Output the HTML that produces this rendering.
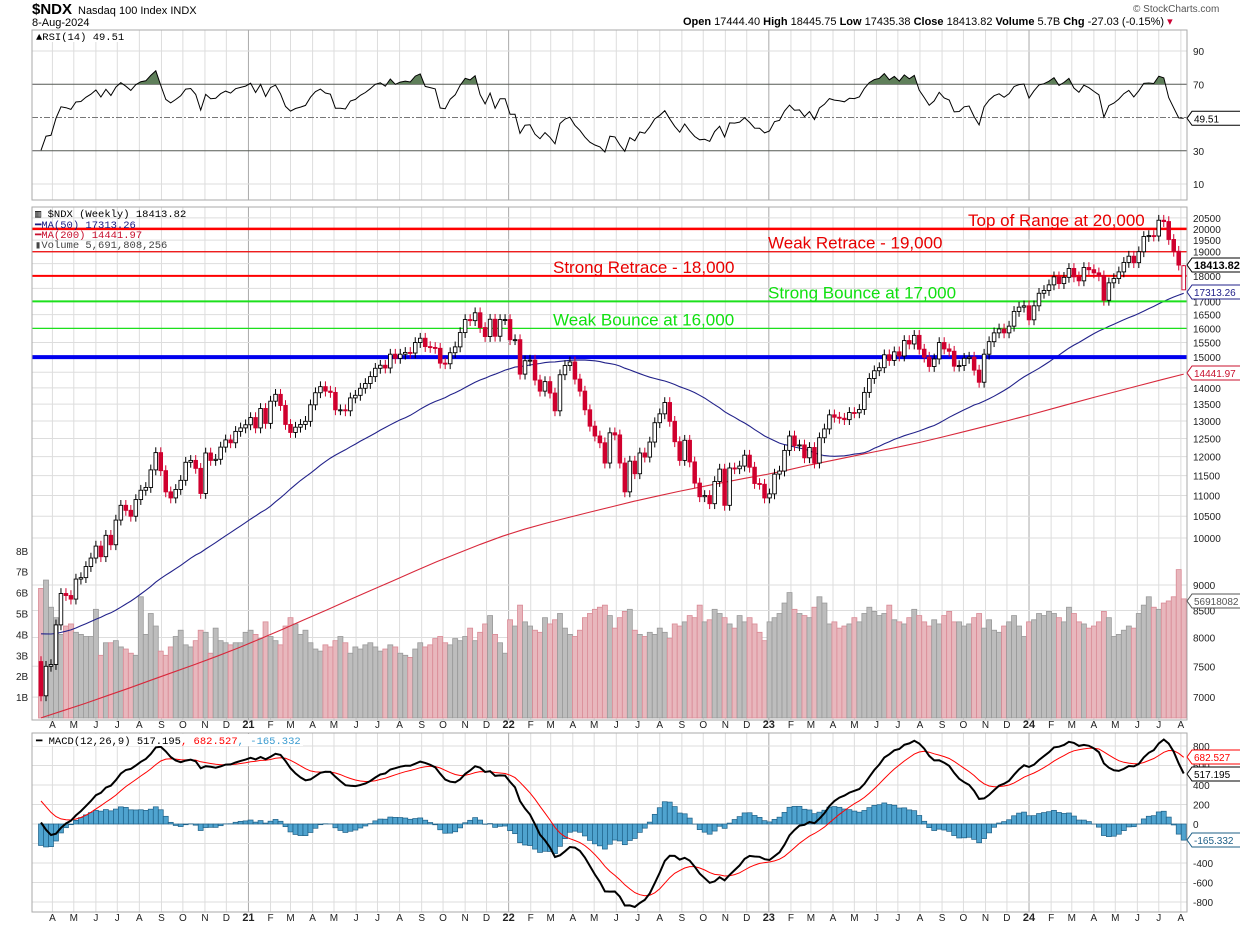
<!DOCTYPE html>
<html><head><meta charset="utf-8">
<style>
html,body{margin:0;padding:0;background:#fff;}
svg{display:block;font-family:"Liberation Sans",sans-serif;}
.mono{font-family:"Liberation Mono",monospace;}
</style></head>
<body>
<svg id="chart" width="1240" height="928" viewBox="0 0 1240 928" xmlns="http://www.w3.org/2000/svg">
<rect width="1240" height="928" fill="#fff"/>
<g id="grid"></g>
<g id="layers"></g>
<g>
<text x="32" y="14" font-size="15" font-weight="bold">$NDX</text>
<text x="78" y="14" font-size="11">Nasdaq 100 Index  INDX</text>
<text x="32" y="26" font-size="11">8-Aug-2024</text>
<text x="1133" y="12" font-size="10" fill="#555">© StockCharts.com</text>
<text x="683" y="25" font-size="11"><tspan font-weight="bold">Open</tspan> 17444.40  <tspan font-weight="bold">High</tspan> 18445.75  <tspan font-weight="bold">Low</tspan> 17435.38  <tspan font-weight="bold">Close</tspan> 18413.82  <tspan font-weight="bold">Volume</tspan> 5.7B  <tspan font-weight="bold">Chg</tspan> -27.03 (-0.15%) <tspan fill="#c03">▾</tspan></text>
</g>
</svg>
<script>
// ---------- DATA ----------
const priorCloses=[7550,7630,7820,7850,7640,7560,7390,7130,7420,7520,7720,7670,7820,7950,7840,7980,7680,7560,7600,7470,7530,7720,7830,7860,7690,7670,7780,7910,7990,8120,8180,8350,8300,8400,8380,8480,8650,8780,8850,8940,9110,9020,8990,9350,9620,9450,8460,8530,7580];
const closes2020=[7020,7500,7530,8230,8830,8790,8720,9120,9150,9380,9560,9820,9590,10060,9850,10410,10760,10640,10500,10900,11130,11200,11650,12110,11630,11090,10940,11150,11380,11850,11900,11690,11050,12100,11900,11930,12260,12460,12380,12700,12800,12890];
const closes2021=[13100,12800,13370,12930,13590,13800,13460,12900,12670,12820,12900,12990,13480,13850,14040,13900,13860,13330,13330,13300,13690,13770,13990,14140,14360,14630,14730,14640,15100,14960,15100,15160,15140,15500,15650,15360,15330,15300,14800,14780,15150,15350,15850,16320,16280,16570,16030,15710,16330,15720,16320,16320];
const closes2022=[15600,15600,14440,14880,14900,14250,13900,14200,13840,13300,14420,14720,14840,14280,13900,13330,12850,12570,12380,11830,12660,12600,11830,11090,11880,11550,12100,11990,12400,12950,13210,13550,12990,12410,11900,12450,11860,11310,10970,11000,10800,11350,11670,10760,11700,11680,11750,12040,11720,11300,11280,10940];
const closes2023=[11040,11540,11620,12170,12570,12300,12320,11970,12250,11830,12520,12770,13180,13110,13080,13040,13250,13240,13340,13860,14300,14550,14650,15080,14890,15180,15040,15570,15450,15750,15270,15000,14690,14940,15500,15280,15200,14700,14720,14960,15000,14570,14180,15100,15530,15840,15980,15840,16080,16620,16780,16830];
const closes2024=[16310,16830,17310,17420,17640,17960,17690,17940,18300,17960,17800,18340,18250,18120,18000,17040,17720,17890,18160,18550,18810,18540,19000,19660,19700,19680,20390,20330,19530,19020,18440,18414];
const lastWeekOHL=[17444.40,18445.75,17435.38];
const volume2020=[6.2,6.6,5.3,4.8,4.0,4.4,4.5,4.1,4.0,3.9,3.9,5.2,3.0,3.6,3.6,3.7,3.4,3.3,3.1,3.0,5.8,4.0,5.0,4.4,3.2,3.0,3.4,3.9,4.2,3.5,3.4,3.7,4.2,4.1,3.1,4.3,3.7,3.6,3.5,3.6,3.6,4.1];
const volume2021=[4.2,4.0,3.8,4.6,3.9,3.7,3.5,4.4,4.8,4.5,4.0,4.2,3.6,3.3,3.2,3.5,3.4,3.7,3.9,3.6,3.1,3.4,3.3,3.5,3.6,3.4,3.2,3.3,3.5,3.4,3.1,3.0,2.9,3.3,3.6,3.4,3.5,3.8,3.9,3.6,3.5,3.8,3.7,3.9,4.3,3.7,4.1,4.5,4.9,4.0,3.6,3.1];
const volume2022=[4.7,4.4,5.4,4.6,4.4,4.2,4.1,4.8,4.5,4.7,5.0,4.3,4.0,3.9,4.2,4.8,5.0,5.2,5.3,5.4,4.9,4.3,4.8,5.1,5.2,4.2,4.0,3.9,4.1,4.0,4.3,4.1,3.8,4.5,4.4,4.6,4.9,4.8,5.4,4.6,4.7,5.2,5.0,4.8,4.5,4.3,4.9,4.6,4.8,4.5,4.1,3.7];
const volume2023=[4.6,4.8,5.0,5.5,6.0,5.2,5.0,4.9,4.8,5.3,5.8,5.5,4.5,4.6,4.3,4.4,4.5,4.8,4.6,5.0,5.3,5.1,4.9,5.0,5.4,4.7,4.6,4.5,4.8,5.2,4.9,4.6,4.4,4.7,4.5,4.9,5.1,4.6,4.6,4.4,4.5,4.8,5.0,4.3,4.7,4.2,4.1,4.4,4.6,4.9,4.4,3.9];
const volume2024=[4.6,4.7,5.0,4.9,5.1,5.0,4.8,4.6,5.3,5.0,4.6,4.5,4.3,4.4,4.6,5.1,4.8,3.9,4.0,4.2,4.4,4.3,5.0,5.4,5.8,5.3,5.2,5.5,5.6,5.8,7.1,5.7];
const ma200Monthly=[6680,6790,6900,7020,7140,7270,7400,7530,7670,7820,7980,8150,8330,8510,8700,8890,9080,9280,9480,9670,9860,10040,10200,10340,10470,10600,10730,10860,10980,11100,11210,11320,11430,11530,11650,11780,11900,12020,12140,12260,12390,12540,12690,12850,13010,13180,13360,13540,13720,13900,14080,14260,14440];
const levelPrices=[20000,19000,18000,17000,16000,15000];
const levelLabels=["Top of Range at 20,000","Weak Retrace - 19,000","Strong Retrace - 18,000","Strong Bounce at 17,000","Weak Bounce at 16,000",""];
const priceTicks=[20500,20000,19500,19000,18500,18000,17500,17000,16500,16000,15500,15000,14500,14000,13500,13000,12500,12000,11500,11000,10500,10000,9000,8500,8000,7500,7000];
const volTicks=[1,2,3,4,5,6,7,8];
const rsiTicks=[90,70,50,30,10];
const macdTicks=[800,600,400,200,0,-200,-400,-600,-800];
const monthLetters=["J","F","M","A","M","J","J","A","S","O","N","D"];

// ---------- SCALES ----------
const closes=[].concat(closes2020,closes2021,closes2022,closes2023,closes2024);
const volumes=[].concat(volume2020,volume2021,volume2022,volume2023,volume2024);
const N=closes.length;
const X0=41,DX=4.99,L=32,R=1187;
const xw=i=>X0+i*DX;
const py=p=>538-446*Math.log(p/10000);
const vy=v=>718-v*20.9;
const ry=r=>184-(r-10)*1.6625;
const my=m=>824-m*0.0975;
const startDate=Date.UTC(2020,2,16);
const xd=d=>X0+(d-startDate)/86400000/7*DX;

const NS="http://www.w3.org/2000/svg";
const grid=document.getElementById('grid');
const layers=document.getElementById('layers');
function mk(tag,attrs,parent){const e=document.createElementNS(NS,tag);for(const k in attrs)e.setAttribute(k,attrs[k]);(parent||layers).appendChild(e);return e;}

// ---------- PANEL GRIDS ----------
const panels=[[30,200],[207,720],[733,912]];
for(let y=2020,m=3;y<2024||(y===2024&&m<=7);){
  const x=xd(Date.UTC(y,m,1));
  const yr=(m===0);
  panels.forEach(p=>{const ln=mk('line',{x1:x,x2:x,y1:p[0],y2:p[1],stroke:yr?'#aaa':'#ddd','stroke-width':1},grid);
    });
  [728,921].forEach(ty=>{const t=mk('text',{x:x,y:ty,'font-size':yr?11:10,'font-weight':yr?'bold':'normal','text-anchor':'middle',fill:'#222'},grid);
    
    t.textContent=yr?String(y-2000):monthLetters[m];});
  m++;if(m>11){m=0;y++;}
}
priceTicks.forEach(p=>{
  const g=mk('line',{x1:L,x2:R,y1:py(p),y2:py(p),stroke:'#ddd'},grid);
  
  const t=mk('text',{x:1193,y:py(p)+4,'font-size':10,fill:'#222'},grid);
  
  t.textContent=p;
});
volTicks.forEach(v=>{
  const t=mk('text',{x:16,y:vy(v)+4,'font-size':10,fill:'#222'},grid);
  
  t.textContent=v+'B';
});
rsiTicks.forEach(r=>{
  const strong=(r===70||r===30);
  const g=mk('line',{x1:L,x2:R,y1:ry(r),y2:ry(r),stroke:strong?'#555':(r===50?'#777':'#ddd'),'stroke-dasharray':r===50?'6,2,2,2':'none'},grid);
  
  if(r!==50){const t=mk('text',{x:1193,y:ry(r)+4,'font-size':10,fill:'#222'},grid);
  t.textContent=r;}
});
macdTicks.forEach(m=>{
  const g=mk('line',{x1:L,x2:R,y1:my(m),y2:my(m),stroke:'#ddd'},grid);
  
  const t=mk('text',{x:1193,y:my(m)+4,'font-size':10,fill:'#222'},grid);
  t.textContent=m;
});

// ---------- INDICATORS ----------
const all=priorCloses.concat(closes);const P=priorCloses.length;
const ma50=[];for(let i=0;i<N;i++){let s=0;for(let k=0;k<50;k++)s+=all[P+i-k];ma50.push(s/50);}
let ag=0,al=0;const rsiAll=[];
for(let j=1;j<all.length;j++){const d=all[j]-all[j-1];const g=Math.max(d,0),l=Math.max(-d,0);
  if(j<=14){ag+=g/14;al+=l/14;}else{ag=(ag*13+g)/14;al=(al*13+l)/14;}
  rsiAll[j]=al===0?100:100-100/(1+ag/al);}
const rsi=[];for(let i=0;i<N;i++)rsi.push(rsiAll[P+i]);
let e12=all[0],e26=all[0],sig=0;const macd=[],signal=[];
for(let j=0;j<all.length;j++){e12+= (all[j]-e12)*2/13;e26+=(all[j]-e26)*2/27;const m=e12-e26;sig+=(m-sig)*0.2;
  if(j>=P){macd.push(m);signal.push(sig);}}

// ---------- RSI PANEL ----------
const clip1=mk('clipPath',{id:'above70'});mk('rect',{x:L,y:30,width:R-L,height:ry(70)-30},clip1);
const clip2=mk('clipPath',{id:'below30'});mk('rect',{x:L,y:ry(30),width:R-L,height:200-ry(30)},clip2);
let rpts=rsi.map((r,i)=>xw(i).toFixed(1)+','+ry(r).toFixed(1)).join(' ');
const f1=mk('polygon',{points:xw(0)+','+ry(70)+' '+rpts+' '+xw(N-1)+','+ry(70),fill:'#5f7f5a','clip-path':'url(#above70)'});

const f2=mk('polygon',{points:xw(0)+','+ry(30)+' '+rpts+' '+xw(N-1)+','+ry(30),fill:'#5f7f5a','clip-path':'url(#below30)'});

const rl=mk('polyline',{points:rpts,fill:'none',stroke:'#000','stroke-width':1});


// ---------- VOLUME ----------
for(let i=0;i<N;i++){
  const up=closes[i]>=(i?closes[i-1]:all[P-1]);
  const b=mk('rect',{x:xw(i)-2.5,y:vy(volumes[i]),width:5,height:718-vy(volumes[i]),fill:up?'#bdbdbd':'#e8b7bd',stroke:up?'#999':'#d98a95','stroke-width':0.8});
  
}
// ---------- MAs ----------
const m50=mk('polyline',{points:ma50.map((v,i)=>xw(i).toFixed(1)+','+py(v).toFixed(1)).join(' '),fill:'none',stroke:'#22228a','stroke-width':1.1});

const m200=mk('polyline',{points:ma200Monthly.map((v,k)=>xw(k*(N-1)/(ma200Monthly.length-1)).toFixed(1)+','+py(v).toFixed(1)).join(' '),fill:'none',stroke:'#d8293c','stroke-width':1.1});


// ---------- LEVELS ----------
const lvColors=['#f00','#e00','#f00','#1ce01c','#1ce01c','#0000ee'];
const lvWidth=[2.5,1.2,2,2,1.2,4];
const lvTextX=[968,768,553,768,553,0];
levelPrices.forEach((p,k)=>{
  const ln=mk('line',{x1:L,x2:R,y1:py(p),y2:py(p),stroke:lvColors[k],'stroke-width':lvWidth[k]});
  
  if(levelLabels[k]){const t=mk('text',{x:lvTextX[k],y:py(p)-3,'font-size':17,fill:k<3?'#e80000':'#10e010'});
    t.textContent=levelLabels[k];}
});

// ---------- CANDLES ----------
for(let i=0;i<N;i++){
  const last=(i===N-1);
  const o=last?lastWeekOHL[0]:(i?closes[i-1]:all[P-1]),c=closes[i];
  const hi=last?lastWeekOHL[1]:Math.max(o,c)*1.012,lo=last?lastWeekOHL[2]:Math.min(o,c)*0.988;
  const up=c>=o;const col=(c>=(i?closes[i-1]:all[P-1]))?'#000':'#d0002e';
  const w=mk('line',{x1:xw(i),x2:xw(i),y1:py(hi),y2:py(lo),stroke:col,'stroke-width':1});
  
  const top=py(Math.max(o,c)),bh=Math.max(1,py(Math.min(o,c))-top);
  const b=mk('rect',{x:xw(i)-1.8,y:top,width:3.6,height:bh,fill:up?'#fff':col,stroke:col,'stroke-width':0.9});
  
}

// ---------- MACD ----------
for(let i=0;i<N;i++){
  const h=macd[i]-signal[i];
  const b=mk('rect',{x:xw(i)-2.5,y:Math.min(my(h),my(0)),width:5,height:Math.abs(my(h)-my(0)),fill:'#4fa3cf',stroke:'#1d5f86','stroke-width':0.7});
  
}
const sl=mk('polyline',{points:signal.map((v,i)=>xw(i).toFixed(1)+','+my(v).toFixed(1)).join(' '),fill:'none',stroke:'#f00','stroke-width':1});

const ml=mk('polyline',{points:macd.map((v,i)=>xw(i).toFixed(1)+','+my(v).toFixed(1)).join(' '),fill:'none',stroke:'#000','stroke-width':2});


// ---------- FRAMES ----------
panels.forEach(p=>{const r=mk('rect',{x:L,y:p[0],width:R-L,height:p[1]-p[0],fill:'none',stroke:'#aaa'});
  });

// ---------- LEGENDS ----------
function legend(x,y,txt,fill,name){const t=mk('text',{x:x,y:y,'font-size':10.5,fill:fill,'class':'mono'});
  t.textContent=txt;return t;}
mk('rect',{x:33,y:31,width:95,height:11,fill:'#fff'});
legend(36,40,'▲RSI(14) 49.51','#000','rsi-legend');
legend(35,217,'▥ $NDX (Weekly) 18413.82','#000','price-legend');
legend(35,228,'━MA(50) 17313.26','#1a1a80','ma50-legend');
legend(35,238,'━MA(200) 14441.97','#c8102e','ma200-legend');
legend(35,248,'▮Volume 5,691,808,256','#444','volume-legend');
mk('rect',{x:33,y:734,width:270,height:12,fill:'#fff'});
const mlg=legend(36,744,'','#000','macd-legend');
mlg.innerHTML='━ MACD(12,26,9) 517.195<tspan fill="#f00">, 682.527</tspan><tspan fill="#3a9bd0">, -165.332</tspan>';

// ---------- RIGHT VALUE TAGS ----------
function tag(y,txt,color,bold,name){
  const r=mk('path',{d:`M1187,${y} l5,-7 h50 v14 h-50 z`,fill:'#fff',stroke:color,'stroke-width':1});
  
  const t=mk('text',{x:1194,y:y+4,'font-size':bold?11:10,'font-weight':bold?'bold':'normal',fill:color});
  t.textContent=txt;}
tag(ry(rsi[N-1]),'49.51','#000',false,'rsi-value-tag');
tag(265,'18413.82','#000',true,'close-value-tag');
tag(292,'17313.26','#22228a',false,'ma50-value-tag');
tag(373,'14441.97','#c8102e',false,'ma200-value-tag');
tag(601,'56918082','#555',false,'volume-value-tag');
tag(757,'682.527','#f00',false,'signal-value-tag');
tag(774,'517.195','#000',false,'macd-value-tag');
tag(840,'-165.332','#1d5f86',false,'histogram-value-tag');
</script>
</body></html>
